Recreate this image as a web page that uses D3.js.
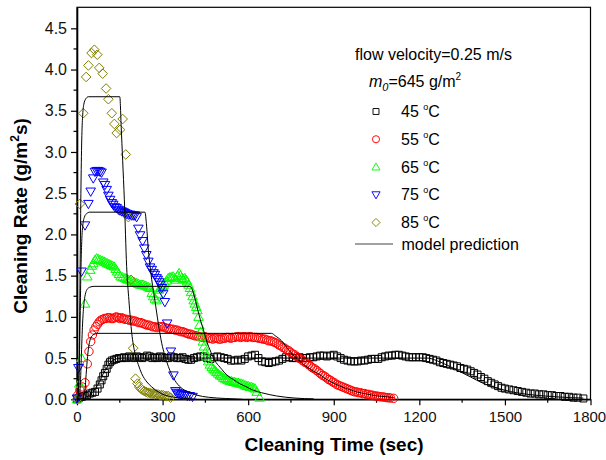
<!DOCTYPE html>
<html>
<head>
<meta charset="utf-8">
<script src="https://cdn.jsdelivr.net/npm/d3@7"></script>
<style>
  body { margin: 0; background: #fff; }
  svg { font-family: "Liberation Sans", Arial, sans-serif; }
</style>
</head>
<body>
<div id="chart"></div>
<script>
// measured series: [time (s), cleaning rate (g/m2 s)]
const s45 = [[0,0.0],[8,0.02],[17,0.03],[26,0.04],[35,0.05],[45,0.07],[54,0.08],[63,0.09],[72,0.13],[80,0.18],[86,0.23],[92,0.28],[98,0.32],[104,0.37],[110,0.42],[116,0.45],[122,0.47],[130,0.48],[138,0.49],[147,0.50],[156,0.50],[165,0.51],[174,0.50],[183,0.52],[192,0.51],[201,0.50],[210,0.52],[219,0.51],[228,0.50],[237,0.51],[246,0.53],[255,0.52],[264,0.50],[273,0.51],[282,0.50],[291,0.52],[300,0.51],[310,0.50],[320,0.50],[330,0.52],[340,0.51],[350,0.50],[360,0.50],[370,0.51],[380,0.49],[390,0.48],[400,0.48],[410,0.50],[420,0.51],[432,0.52],[444,0.52],[456,0.50],[468,0.49],[480,0.51],[492,0.52],[504,0.51],[516,0.50],[528,0.49],[540,0.47],[552,0.47],[564,0.48],[576,0.47],[588,0.49],[600,0.52],[612,0.53],[624,0.54],[636,0.50],[648,0.46],[660,0.45],[672,0.44],[684,0.45],[696,0.46],[708,0.47],[720,0.49],[732,0.51],[744,0.51],[756,0.50],[768,0.50],[780,0.51],[792,0.50],[804,0.50],[816,0.51],[828,0.51],[840,0.52],[852,0.53],[864,0.53],[876,0.52],[888,0.53],[900,0.54],[912,0.52],[924,0.50],[936,0.48],[948,0.47],[960,0.46],[972,0.46],[984,0.46],[996,0.47],[1008,0.47],[1020,0.48],[1032,0.49],[1044,0.49],[1056,0.49],[1068,0.51],[1080,0.52],[1092,0.53],[1104,0.53],[1116,0.54],[1128,0.54],[1140,0.53],[1152,0.52],[1164,0.51],[1176,0.51],[1188,0.51],[1200,0.51],[1212,0.51],[1224,0.50],[1236,0.49],[1248,0.48],[1260,0.47],[1272,0.45],[1284,0.44],[1296,0.43],[1308,0.42],[1320,0.41],[1332,0.40],[1344,0.38],[1356,0.37],[1368,0.36],[1380,0.34],[1392,0.32],[1404,0.30],[1416,0.27],[1428,0.25],[1440,0.22],[1452,0.20],[1464,0.18],[1476,0.16],[1488,0.14],[1500,0.13],[1515,0.12],[1530,0.11],[1545,0.10],[1560,0.09],[1575,0.08],[1590,0.07],[1605,0.07],[1620,0.06],[1635,0.06],[1650,0.05],[1665,0.05],[1680,0.04],[1695,0.04],[1710,0.03],[1725,0.03],[1740,0.02],[1755,0.02],[1775,0.01]];

const s55 = [[3,0.05],[10,0.11],[18,0.15],[28,0.2],[36,0.43],[42,0.58],[48,0.7],[54,0.78],[60,0.84],[66,0.88],[72,0.91],[78,0.94],[84,0.96],[90,0.97],[96,0.98],[102,0.98],[108,0.99],[114,0.99],[120,0.98],[126,0.98],[132,0.99],[138,1.0],[144,0.99],[150,0.98],[156,0.99],[162,0.98],[168,0.97],[175,0.97],[182,0.96],[189,0.96],[196,0.95],[203,0.95],[210,0.94],[217,0.93],[224,0.93],[231,0.92],[238,0.91],[245,0.9],[252,0.9],[259,0.89],[266,0.88],[273,0.88],[280,0.87],[287,0.88],[294,0.88],[301,0.88],[308,0.87],[315,0.86],[322,0.86],[329,0.85],[336,0.85],[343,0.84],[350,0.84],[357,0.83],[364,0.82],[371,0.82],[378,0.81],[385,0.8],[392,0.79],[399,0.79],[406,0.78],[413,0.77],[420,0.77],[427,0.76],[434,0.76],[441,0.75],[448,0.76],[455,0.75],[462,0.74],[469,0.74],[476,0.73],[483,0.74],[490,0.74],[497,0.73],[504,0.73],[511,0.74],[518,0.74],[525,0.75],[532,0.75],[539,0.74],[546,0.75],[553,0.75],[560,0.76],[567,0.76],[574,0.75],[581,0.76],[588,0.76],[595,0.75],[602,0.76],[609,0.76],[616,0.75],[623,0.75],[630,0.75],[637,0.74],[644,0.74],[651,0.73],[658,0.73],[665,0.72],[672,0.71],[679,0.71],[686,0.7],[693,0.69],[700,0.68],[707,0.66],[714,0.65],[721,0.63],[728,0.62],[735,0.6],[742,0.59],[749,0.57],[756,0.55],[763,0.54],[770,0.52],[777,0.5],[784,0.49],[791,0.47],[798,0.45],[805,0.44],[812,0.42],[819,0.4],[826,0.38],[833,0.37],[840,0.35],[847,0.33],[854,0.31],[861,0.29],[868,0.28],[875,0.26],[882,0.24],[889,0.23],[896,0.21],[903,0.2],[910,0.18],[917,0.17],[924,0.16],[931,0.15],[938,0.14],[945,0.13],[952,0.12],[959,0.11],[966,0.1],[973,0.09],[980,0.09],[987,0.08],[994,0.08],[1001,0.07],[1008,0.07],[1015,0.06],[1022,0.06],[1029,0.05],[1036,0.05],[1043,0.04],[1050,0.04],[1057,0.035],[1064,0.03],[1071,0.03],[1078,0.025],[1085,0.02],[1092,0.02],[1099,0.015],[1110,0.012]];

const s65 = [[0,0],[8,0.19],[16,0.5],[28,1.16],[36,1.49],[46,1.57],[52,1.62],[57,1.65],[63,1.69],[69,1.71],[75,1.7],[81,1.69],[88,1.68],[95,1.67],[100,1.66],[106,1.65],[112,1.64],[118,1.63],[124,1.62],[130,1.61],[136,1.58],[141,1.55],[147,1.52],[153,1.49],[160,1.48],[168,1.47],[174,1.46],[180,1.45],[187,1.44],[195,1.43],[202,1.42],[209,1.41],[215,1.4],[221,1.39],[227,1.39],[232,1.39],[238,1.38],[244,1.37],[250,1.36],[256,1.35],[262,1.29],[267,1.25],[273,1.22],[279,1.2],[284,1.28],[288,1.33],[294,1.35],[300,1.37],[304,1.39],[308,1.41],[314,1.44],[320,1.47],[326,1.48],[331,1.48],[337,1.49],[342,1.47],[347,1.45],[353,1.5],[358,1.53],[363,1.5],[367,1.47],[372,1.46],[378,1.47],[382,1.45],[386,1.43],[391,1.39],[396,1.35],[400,1.3],[405,1.25],[409,1.2],[413,1.16],[418,1.12],[422,1.08],[426,1.0],[429,0.9],[433,0.82],[437,0.76],[441,0.7],[445,0.64],[450,0.57],[454,0.52],[460,0.46],[466,0.42],[472,0.39],[478,0.37],[483,0.35],[489,0.33],[495,0.31],[501,0.29],[507,0.28],[513,0.26],[519,0.25],[525,0.24],[530,0.23],[536,0.22],[542,0.22],[548,0.21],[553,0.21],[559,0.2],[565,0.2],[571,0.19],[577,0.19],[583,0.18],[589,0.17],[595,0.16],[600,0.16],[606,0.15],[612,0.15],[618,0.14],[624,0.13],[630,0.09],[640,0.02]];

const s75 = [[0,0.01],[5,0.38],[16,1.55],[28,2.11],[40,2.37],[48,2.52],[57,2.68],[63,2.76],[69,2.77],[75,2.77],[81,2.76],[86,2.75],[92,2.63],[98,2.6],[104,2.54],[110,2.47],[116,2.42],[122,2.38],[127,2.36],[133,2.33],[139,2.32],[145,2.3],[151,2.29],[157,2.28],[163,2.27],[168,2.26],[174,2.25],[180,2.24],[186,2.24],[192,2.23],[198,2.23],[203,2.23],[209,2.21],[215,2.07],[221,1.99],[230,1.92],[236,1.83],[243,1.75],[250,1.67],[256,1.6],[262,1.57],[268,1.53],[273,1.51],[279,1.47],[283,1.45],[288,1.42],[292,1.39],[297,1.35],[302,1.28],[308,1.18],[316,0.92],[329,0.58],[338,0.29],[345,0.1],[350,0.08],[356,0.07],[362,0.06],[368,0.06],[374,0.05],[380,0.05],[387,0.04],[395,0.04],[405,0.03]];

const s85 = [[0,0.0],[10,2.37],[22,3.47],[32,3.91],[40,4.05],[51,4.2],[61,4.24],[71,4.18],[78,4.02],[90,3.95],[102,3.77],[110,3.64],[122,3.47],[131,3.34],[139,3.23],[151,3.27],[160,3.4],[171,2.97],[180,2.21],[189,1.45],[197,0.62],[205,0.25],[212,0.19],[218,0.15],[224,0.13],[230,0.11],[236,0.1],[242,0.09],[248,0.08],[254,0.08],[260,0.07],[266,0.07],[272,0.06],[278,0.06],[284,0.06],[290,0.05],[296,0.05],[302,0.05],[308,0.04],[314,0.04],[320,0.04],[328,0.02]];

// model prediction curves
const m45 = [[0,0],[20,0.01],[35,0.03],[50,0.07],[60,0.11],[70,0.16],[80,0.22],[92,0.31],[104,0.38],[116,0.44],[130,0.48],[145,0.495],[165,0.5],[1230,0.5],[1260,0.47],[1300,0.41],[1340,0.34],[1380,0.27],[1420,0.2],[1460,0.15],[1500,0.11],[1540,0.08],[1580,0.06],[1620,0.045],[1680,0.03],[1730,0.02],[1775,0.015]];
const m55 = [[0,0],[20,0.01],[27,0.08],[32,0.3],[37,0.52],[42,0.66],[48,0.74],[56,0.78],[68,0.8],[682,0.8],[695,0.77],[717,0.71],[735,0.63],[752,0.56],[775,0.48],[799,0.41],[825,0.35],[851,0.3],[875,0.24],[898,0.2],[922,0.16],[945,0.13],[980,0.09],[1015,0.064],[1050,0.042],[1085,0.03],[1110,0.022]];
const m65 = [[0,0],[8,0.02],[12,0.2],[16,0.6],[20,0.95],[24,1.15],[29,1.27],[35,1.33],[45,1.36],[60,1.37],[396,1.37],[404,1.33],[412,1.24],[420,1.13],[432,0.97],[445,0.82],[456,0.69],[466,0.6],[483,0.47],[501,0.39],[530,0.28],[548,0.24],[570,0.19],[589,0.16],[618,0.11],[647,0.08],[700,0.04],[764,0.015],[830,0.005]];
const m75 = [[0,0],[4,0.03],[8,0.4],[11,1.0],[14,1.6],[17,1.95],[21,2.13],[26,2.21],[33,2.25],[45,2.27],[238,2.27],[244,2.1],[250,1.81],[256,1.62],[262,1.45],[273,1.2],[285,0.92],[297,0.68],[308,0.53],[320,0.4],[343,0.23],[365,0.14],[390,0.09],[420,0.05],[460,0.025],[520,0.01],[580,0.0]];
const m85 = [[0,0],[4,0.05],[8,0.6],[11,1.6],[14,2.6],[17,3.2],[20,3.45],[24,3.58],[30,3.64],[40,3.67],[150,3.67],[155,3.3],[160,2.9],[166,2.42],[174,1.61],[182,1.2],[192,0.8],[203,0.56],[215,0.42],[227,0.31],[245,0.21],[262,0.15],[285,0.09],[308,0.05],[340,0.025],[380,0.01],[420,0]];

const xTicks = [0, 300, 600, 900, 1200, 1500, 1800];
const yTicks = [0, 0.5, 1.0, 1.5, 2.0, 2.5, 3.0, 3.5, 4.0, 4.5];
const seriesLabels = ["45", "55", "65", "75", "85"];

const width = 606, height = 460;
const svg = d3.select("#chart").append("svg")
  .attr("width", width)
  .attr("height", height);

const x = d3.scaleLinear().domain([0, 1800]).range([77, 590.5]);
const y = d3.scaleLinear().domain([0, 4.755]).range([399.3, 7.3]);

const series = [
  { data: s45, color: "#000000", shape: "square" },
  { data: s55, color: "#ff0000", shape: "circle" },
  { data: s65, color: "#00ff00", shape: "up" },
  { data: s75, color: "#0000ff", shape: "down" },
  { data: s85, color: "#808000", shape: "diamond" }
];
const models = [m45, m55, m65, m75, m85];

const shapes = {
  square: "M-3.5,-3.5h7v7h-7Z",
  circle: "M4.2,0A4.2,4.2 0 1,1 -4.2,0A4.2,4.2 0 1,1 4.2,0Z",
  up: "M0,-4.8L4.8,3.5L-4.8,3.5Z",
  down: "M0,4.8L4.8,-3.5L-4.8,-3.5Z",
  diamond: "M0,-4.8L4.8,0L0,4.8L-4.8,0Z"
};

// frame (top / right)
svg.append("rect")
  .attr("x", x(0)).attr("y", y.range()[1])
  .attr("width", x(1800) - x(0)).attr("height", y(0) - y.range()[1])
  .attr("fill", "none").attr("stroke", "#000").attr("stroke-width", 1.2);

// minor ticks
const xMinor = d3.range(150, 1800, 300);
const yMinor = d3.range(0.25, 4.6, 0.5);
svg.append("g").selectAll("line").data(xMinor).enter().append("line")
  .attr("x1", d => x(d)).attr("x2", d => x(d))
  .attr("y1", y(0)).attr("y2", y(0) + 3.5)
  .attr("stroke", "#000").attr("stroke-width", 1.2);
svg.append("g").selectAll("line").data(yMinor).enter().append("line")
  .attr("x1", x(0) - 3.5).attr("x2", x(0))
  .attr("y1", d => y(d)).attr("y2", d => y(d))
  .attr("stroke", "#000").attr("stroke-width", 1.2);

const xAxis = svg.append("g")
  .attr("transform", `translate(0,${y(0)})`)
  .call(d3.axisBottom(x).tickValues(xTicks).tickFormat(d3.format("d")).tickSize(6).tickSizeOuter(0).tickPadding(6));
const yAxis = svg.append("g")
  .attr("transform", `translate(${x(0)},0)`)
  .call(d3.axisLeft(y).tickValues(yTicks).tickFormat(d3.format(".1f")).tickSize(6).tickSizeOuter(0).tickPadding(4));

[xAxis, yAxis].forEach(g => {
  g.select(".domain").attr("stroke-width", 1.6);
  g.selectAll(".tick line").attr("stroke-width", 1.2);
  g.selectAll(".tick text")
    .style("font-family", "'Liberation Sans', Arial, sans-serif")
    .style("font-size", "16px")
    .attr("fill", "#111");
});
xAxis.selectAll(".tick text").style("font-size", "15px");
xAxis.selectAll(".tick text").filter(d => d === 1800).attr("dx", -1.5);

// markers
series.forEach(s => {
  svg.append("g").selectAll("path").data(s.data).enter().append("path")
    .attr("d", shapes[s.shape])
    .attr("transform", d => `translate(${x(d[0])},${y(d[1])})`)
    .attr("fill", "none")
    .attr("stroke", s.color)
    .attr("stroke-width", 1);
});

// model curves
const line = d3.line()
  .x(d => x(d[0]))
  .y(d => y(d[1]))
  .curve(d3.curveMonotoneX);
models.forEach(m => {
  svg.append("path")
    .attr("d", line(m))
    .attr("fill", "none")
    .attr("stroke", "#000")
    .attr("stroke-width", 1);
});

// axis titles
svg.append("text")
  .attr("x", 334).attr("y", 451)
  .attr("text-anchor", "middle")
  .style("font-size", "19px").style("font-weight", "bold")
  .text("Cleaning Time (sec)");

const yTitle = svg.append("text")
  .attr("transform", "translate(27,216) rotate(-90)")
  .attr("text-anchor", "middle")
  .style("font-size", "19px").style("font-weight", "bold");
yTitle.append("tspan").text("Cleaning Rate (g/m");
yTitle.append("tspan").attr("dy", -8).style("font-size", "12px").text("2");
yTitle.append("tspan").attr("dy", 8).text("s)");

// legend
const leg = svg.append("g").style("font-size", "16px");
leg.append("text").attr("x", 355).attr("y", 60).text("flow velocity=0.25 m/s");
const m0 = leg.append("text").attr("x", 369).attr("y", 87);
m0.append("tspan").style("font-style", "italic").text("m");
m0.append("tspan").style("font-style", "italic").style("font-size", "11px").attr("dy", 4).text("0");
m0.append("tspan").attr("dy", -4).text("=645 g/m");
m0.append("tspan").style("font-size", "10px").attr("dy", -7).text("2");

series.forEach((s, i) => {
  const by = 117 + i * 27.75;
  leg.append("path")
    .attr("d", shapes[s.shape])
    .attr("transform", `translate(376,${by - 5.5}) scale(0.85)`)
    .attr("fill", "none").attr("stroke", s.color).attr("stroke-width", 1.1);
  const t = leg.append("text").attr("x", 401).attr("y", by);
  t.append("tspan").text(seriesLabels[i] + " ");
  t.append("tspan").style("font-size", "9px").attr("dy", -7).text("o");
  t.append("tspan").attr("dy", 7).text("C");
});
leg.append("line")
  .attr("x1", 355).attr("x2", 393).attr("y1", 244).attr("y2", 244)
  .attr("stroke", "#444").attr("stroke-width", 1.2);
leg.append("text").attr("x", 401.5).attr("y", 250).text("model prediction");
</script>
</body>
</html>
